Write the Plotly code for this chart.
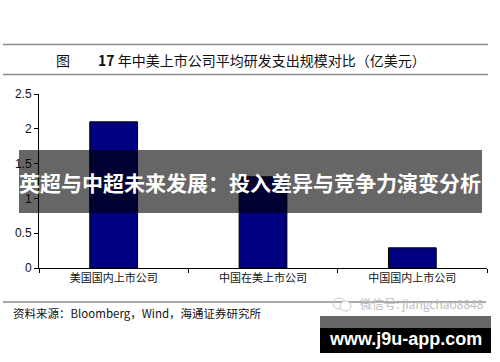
import plotly.graph_objects as go

categories = ["美国国内上市公司", "中国在美上市公司", "中国国内上市公司"]
values = [2.1, 1.31, 0.29]
y_ticks = [0, 0.5, 1, 1.5, 2, 2.5]
y_tick_labels = ["0", "0.5", "1", "1.5", "2", "2.5"]

W, H = 500, 362
L, R, T, B = 39, 487, 94, 268


def px(x):
    return (x - L) / (R - L)


def py(y):
    return (B - y) / (B - T)


fig = go.Figure()
fig.add_trace(go.Bar(
    x=categories, y=values, width=0.32,
    marker=dict(color="#000080", line=dict(color="#000000", width=1)),
    hoverinfo="skip",
))

CJK = "Noto Sans CJK SC"
LAT = "Liberation Sans, Arial, sans-serif"

shapes = []
for yy, x0, x1 in [(44.5, 3, 488), (74.5, 3, 488), (302, 3, 486)]:
    shapes.append(dict(type="line", xref="paper", yref="paper",
                       x0=px(x0), x1=px(x1), y0=py(yy), y1=py(yy),
                       line=dict(color="#8c8c8c", width=1.5), layer="above"))
shapes.append(dict(type="rect", xref="paper", yref="paper",
                   x0=px(19), x1=px(482), y0=py(213), y1=py(150),
                   fillcolor="rgba(0,0,0,0.6)", line=dict(width=0), layer="above"))
shapes.append(dict(type="rect", xref="paper", yref="paper",
                   x0=px(320), x1=px(491), y0=py(328), y1=py(316),
                   fillcolor="#666666", line=dict(width=0), layer="above"))
shapes.append(dict(type="rect", xref="paper", yref="paper",
                   x0=px(320), x1=px(491), y0=py(353), y1=py(328),
                   fillcolor="#000000", line=dict(width=0), layer="above"))
shapes.append(dict(type="circle", xref="paper", yref="paper",
                   x0=px(333), x1=px(345), y0=py(309), y1=py(298),
                   line=dict(color="#c8c8c8", width=1), layer="above"))
shapes.append(dict(type="circle", xref="paper", yref="paper",
                   x0=px(340), x1=px(351), y0=py(311), y1=py(301),
                   line=dict(color="#c8c8c8", width=1), fillcolor="white", layer="above"))

annotations = [
    dict(text="图　　<b>17</b> 年中美上市公司平均研发支出规模对比（亿美元）",
         xref="paper", yref="paper", x=px(241), y=py(60), showarrow=False,
         xanchor="center", yanchor="middle",
         font=dict(family=CJK, size=14, color="#111111")),
    dict(text="资料来源：Bloomberg，Wind，海通证券研究所",
         xref="paper", yref="paper", x=px(11), y=py(313), showarrow=False,
         xanchor="left", yanchor="middle",
         font=dict(family=CJK, size=11.5, color="#111111")),
    dict(text="微信号: jiangchao8848",
         xref="paper", yref="paper", x=px(486), y=py(303), showarrow=False,
         xanchor="right", yanchor="middle",
         font=dict(family=CJK, size=12, color="#bdbdbd")),
    dict(text="<b>英超与中超未来发展：投入差异与竞争力演变分析</b>",
         xref="paper", yref="paper", x=px(250), y=py(182), showarrow=False,
         xanchor="center", yanchor="middle",
         font=dict(family=CJK, size=21, color="#ffffff")),
    dict(text="<b>www.j9u-app.com</b>",
         xref="paper", yref="paper", x=px(405), y=py(339), showarrow=False,
         xanchor="center", yanchor="middle",
         font=dict(family=LAT, size=18, color="#ffffff")),
]

fig.update_layout(
    width=W, height=H,
    margin=dict(l=L, r=W - R, t=T, b=H - B, pad=0, autoexpand=False),
    paper_bgcolor="white", plot_bgcolor="white",
    showlegend=False, bargap=0.68,
    shapes=shapes, annotations=annotations,
    xaxis=dict(type="category", showline=True, linecolor="black", linewidth=1,
               ticks="outside", tickson="boundaries", ticklen=4, tickcolor="black",
               showgrid=False, zeroline=False, automargin=False,
               tickfont=dict(family=CJK, size=11, color="#111111")),
    yaxis=dict(range=[0, 2.5], tickvals=y_ticks, ticktext=y_tick_labels,
               showline=True, linecolor="black", linewidth=1,
               ticks="outside", ticklen=4, tickcolor="black",
               showgrid=False, zeroline=False, automargin=False,
               tickfont=dict(family=LAT, size=12, color="#111111")),
)

fig.write_html("out.html", config={"displayModeBar": False},
               post_script="document.body.style.margin='0';")
